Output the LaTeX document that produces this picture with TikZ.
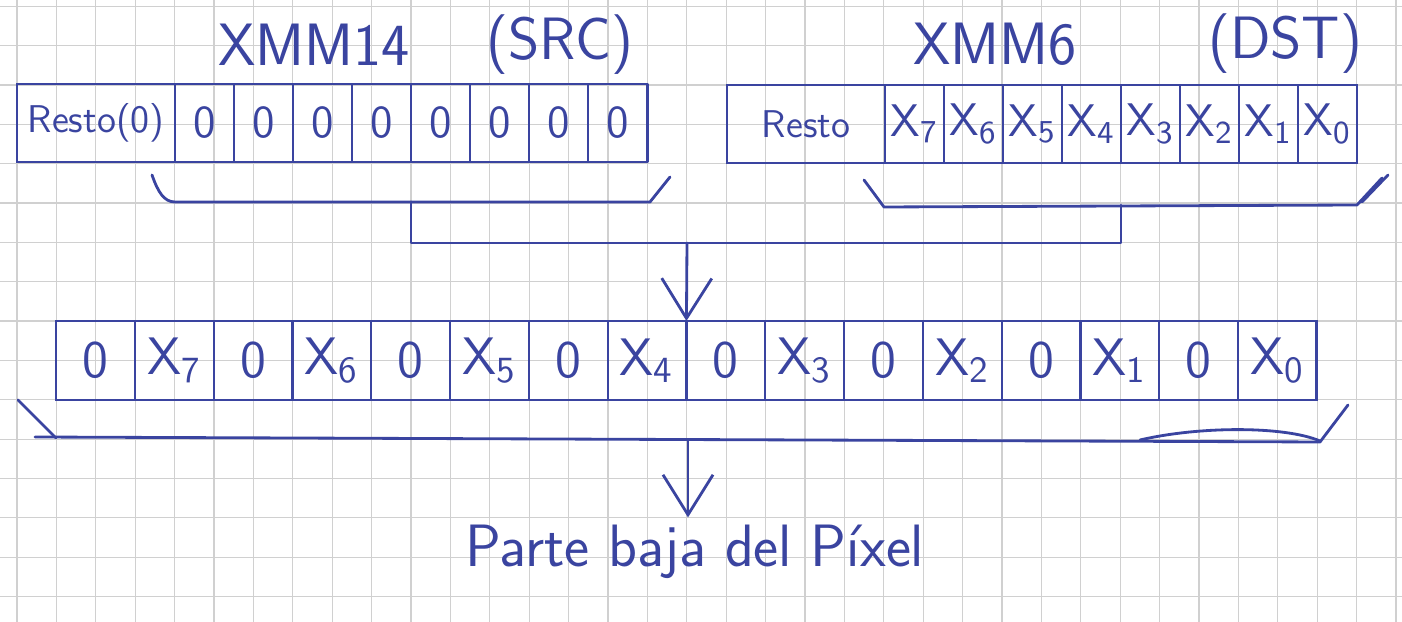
\documentclass[tikz,border=0pt]{standalone}
\usepackage{tikz}
\usepackage{xcolor}
\usetikzlibrary{positioning}
\usetikzlibrary{arrows.meta}
\definecolor{ink}{RGB}{58,68,160}
\definecolor{paper}{RGB}{208,208,208}
\tikzset{
  regcell/.style = {draw=ink, semithick, text=ink, inner sep=0pt, outer sep=0pt,
    minimum width=0.59cm, minimum height=0.78cm, font=\sffamily\fontsize{13}{13}\selectfont},
  restcell/.style = {regcell, minimum width=1.58cm, font=\sffamily\fontsize{11}{11}\selectfont},% resto del registro
  widecell/.style = {regcell, minimum width=0.788cm, minimum height=0.79cm, font=\sffamily\fontsize{15}{15}\selectfont},
  regname/.style = {text=ink, inner sep=0pt, font=\sffamily\fontsize{17}{17}\selectfont},
  hand/.style = {draw=ink, thick, line cap=round, line join=round},
  paperline/.style = {draw=paper, line width=0.35pt},
}

\begin{document}
\begin{tikzpicture}[x=0.01cm, y=-0.01cm, >={Straight Barb[length=4mm,width=5mm]}]
\useasboundingbox (0,0) rectangle (1402,622);
\fill[white] (0,0) rectangle (1402,622);
% papel cuadriculado
\foreach \i in {0,...,35} \draw[paperline] ({17+39.4*\i},0) -- ++(0,622);
\foreach \j in {0,...,15} \draw[paperline] (0,{6.3+39.35*\j}) -- ++(1402,0);

% nombres de los registros
\node[regname] (srcname) at (314,45) {XMM14};
\node[regname, right=0.75cm of srcname] (srcrole) {(SRC)};
\node[regname] (dstname) at (995,44) {XMM6};
\node[regname, right=1.3cm of dstname] (dstrole) {(DST)};

% XMM14
\node[restcell, anchor=north west] (srcR) at (17,84) {Resto(0)};
\node[regcell, right=0pt of srcR] (src1) {0};
\foreach \i [count=\j] in {2,...,8}
  \node[regcell, right=0pt of src\j] (src\i) {0};
\draw[hand] (srcR.north west) rectangle (src8.south east);

% XMM6
\node[restcell, anchor=north west] (dstR) at (727,85) {Resto};
\foreach \i [evaluate=\i as \k using int(8-\i)] in {1,...,8}
  \node[regcell, anchor=north west] (dst\i) at ({885+59*(\i-1)},85) {X\textsubscript{\k}};
\draw[hand] (dstR.north west) rectangle (dst8.south east);

% resultado
\foreach \t [count=\i] in {0,X\textsubscript{7},0,X\textsubscript{6},0,X\textsubscript{5},0,X\textsubscript{4},
    0,X\textsubscript{3},0,X\textsubscript{2},0,X\textsubscript{1},0,X\textsubscript{0}}
  \node[widecell, anchor=north west] (res\i) at ({56+78.8*(\i-1)},321) {\t};
\draw[hand] (res1.north west) rectangle (res16.south east);

\node[regname] (lowpart) at (695,552) {Parte baja del Píxel};

% llaves
\coordinate (srcB) at (411,202);
\coordinate (dstB) at (1121,205);
\coordinate (join) at (687,243);
\coordinate (resB) at (688,440);
\draw[hand] (152,175) .. controls (158,192) and (164,202) .. (175,202) -- (650,202) -- (670,177);
\draw[hand] (864,180) -- (884,207) -- (1357,205) -- (1382,178);
\draw[hand] (1362,202) -- (1388,175);
\draw[hand] (18,400) -- (56,438);
\draw[hand] (35,437) -- (1320,442) -- (1348,405);
\draw[hand] (1140,440) .. controls (1200,426) and (1285,426) .. (1320,441);

% flechas
\draw[hand] (srcB) |- (join) -| (dstB);
\draw[hand, ->] (join) -- (res8.north east);
\draw[hand, ->, shorten >=2pt] (resB) -- (resB |- lowpart.north);
\end{tikzpicture}
\end{document}
